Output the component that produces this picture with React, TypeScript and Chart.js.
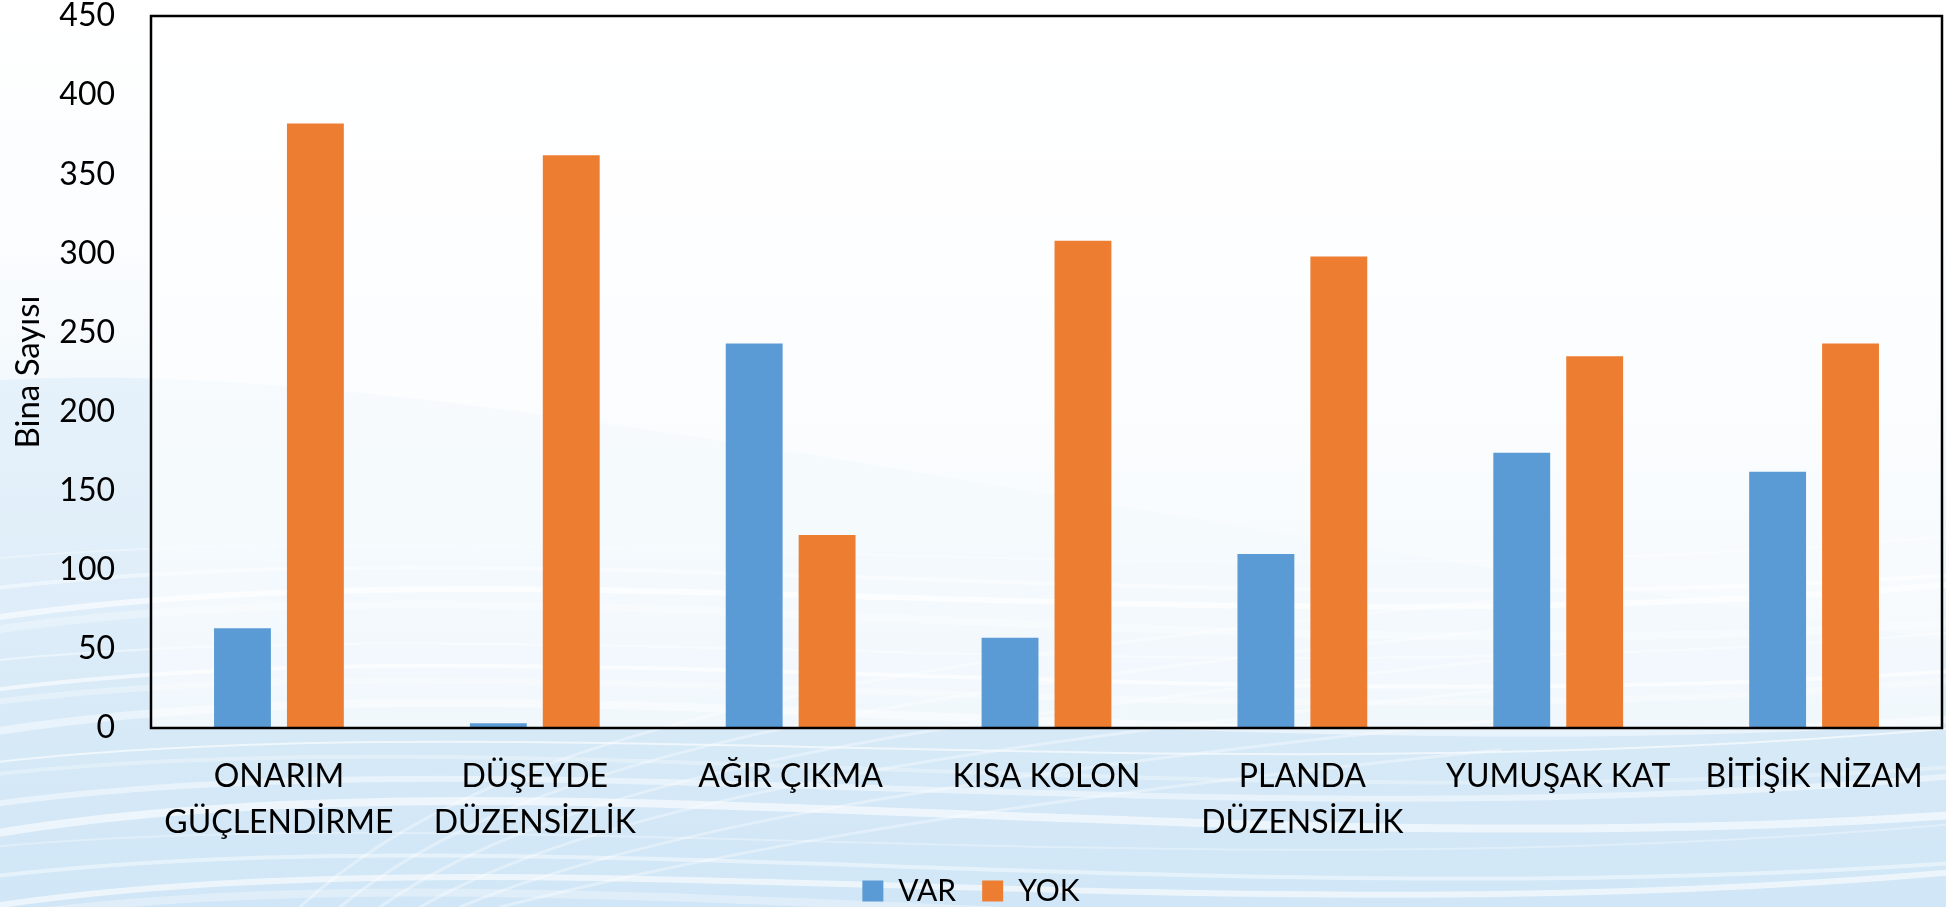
import React, { useEffect, useRef } from "react";
import { Chart, registerables } from "chart.js";

Chart.register(...registerables);

const categories: (string | string[])[] = [
  ["ONARIM", "GÜÇLENDİRME"],
  ["DÜŞEYDE", "DÜZENSİZLİK"],
  "AĞIR ÇIKMA",
  "KISA KOLON",
  ["PLANDA", "DÜZENSİZLİK"],
  "YUMUŞAK KAT",
  "BİTİŞİK NİZAM",
];
const varValues = [63, 3, 243, 57, 110, 174, 162];
const yokValues = [382, 362, 122, 308, 298, 235, 243];
const seriesNames = ["VAR", "YOK"];
const yAxisTitle = "Bina Sayısı";
const yMin = 0;
const yMax = 450;
const yStep = 50;

const FONT = "Lato, 'Open Sans', 'Noto Sans', sans-serif";

const backgroundPlugin = {
  id: "bgWaves",
  beforeDraw(chart: any) {
    const { ctx, width, height, chartArea } = chart;
    ctx.save();
    ctx.fillStyle = "#ffffff";
    ctx.fillRect(0, 0, width, height);

    const g = ctx.createLinearGradient(0, 0, 0, height);
    g.addColorStop(0, "rgba(214,233,247,0)");
    g.addColorStop(0.28, "rgba(214,233,247,0.12)");
    g.addColorStop(0.6, "rgba(214,233,247,0.5)");
    g.addColorStop(0.85, "rgba(210,231,246,0.85)");
    g.addColorStop(1, "rgba(208,230,246,0.95)");
    ctx.fillStyle = g;
    ctx.fillRect(0, 0, width, height);

    // broad swoosh from the left
    ctx.beginPath();
    ctx.moveTo(0, 380);
    ctx.bezierCurveTo(400, 360, 900, 480, 1946, 640);
    ctx.lineTo(1946, height);
    ctx.lineTo(0, height);
    ctx.closePath();
    ctx.fillStyle = "rgba(205,228,245,0.35)";
    ctx.fill();

    // white streaks
    ctx.lineCap = "round";
    for (let i = 0; i < 16; i++) {
      const y0 = 560 + i * 24;
      ctx.beginPath();
      ctx.moveTo(-20, y0 + (i % 3) * 6);
      ctx.bezierCurveTo(500, y0 - 50 - (i % 4) * 10, 1200, y0 + 45, 1966, y0 - 25 + (i % 2) * 15);
      ctx.strokeStyle = `rgba(255,255,255,${0.3 + (i % 3) * 0.15})`;
      ctx.lineWidth = 2 + (i % 4) * 2;
      ctx.stroke();
    }
    for (let i = 0; i < 6; i++) {
      const y0 = 720 + i * 30;
      ctx.beginPath();
      ctx.moveTo(300 + i * 40, 907);
      ctx.bezierCurveTo(500 + i * 30, y0, 900, y0 - 60, 1500, y0 - 120);
      ctx.strokeStyle = "rgba(255,255,255,0.35)";
      ctx.lineWidth = 3;
      ctx.stroke();
    }

    // plot area translucent white
    ctx.fillStyle = "rgba(255,255,255,0.65)";
    ctx.fillRect(
      chartArea.left,
      chartArea.top,
      chartArea.right - chartArea.left,
      chartArea.bottom - chartArea.top
    );
    ctx.restore();
  },
};

const borderPlugin = {
  id: "plotBorder",
  afterDatasetsDraw(chart: any) {
    const { ctx, chartArea } = chart;
    ctx.save();
    ctx.strokeStyle = "#000000";
    ctx.lineWidth = 2.5;
    ctx.strokeRect(
      chartArea.left,
      chartArea.top,
      chartArea.right - chartArea.left,
      chartArea.bottom - chartArea.top
    );
    ctx.restore();
  },
};

export default function App() {
  const canvasRef = useRef<HTMLCanvasElement | null>(null);

  useEffect(() => {
    document.body.style.margin = "0";
    const canvas = canvasRef.current;
    if (!canvas) return;
    const chart = new Chart(canvas, {
      type: "bar",
      data: {
        labels: categories,
        datasets: [
          {
            label: seriesNames[0],
            data: varValues,
            backgroundColor: "#5B9BD5",
            borderWidth: 0,
            categoryPercentage: 0.57,
            barPercentage: 0.78,
          },
          {
            label: seriesNames[1],
            data: yokValues,
            backgroundColor: "#ED7D31",
            borderWidth: 0,
            categoryPercentage: 0.57,
            barPercentage: 0.78,
          },
        ],
      },
      options: {
        responsive: false,
        animation: false,
        devicePixelRatio: 1,
        layout: { padding: { top: 16, right: 4, left: 0, bottom: -9 } },
        plugins: {
          tooltip: { enabled: false },
          legend: {
            position: "bottom",
            labels: {
              boxWidth: 21,
              boxHeight: 21,
              padding: 26,
              color: "#000000",
              font: { family: FONT, size: 30 },
            },
          },
        },
        scales: {
          x: {
            grid: { display: false, drawTicks: false },
            border: { display: false },
            ticks: {
              color: "#000000",
              padding: 26,
              maxRotation: 0,
              autoSkip: false,
              font: { family: FONT, size: 32, lineHeight: 1.4375 },
            },
            afterFit(scale: any) {
              scale.height = 122;
              scale.paddingLeft = 0;
              scale.paddingRight = 0;
            },
          },
          y: {
            min: yMin,
            max: yMax,
            grid: { display: false, drawTicks: false },
            border: { display: false },
            ticks: {
              stepSize: yStep,
              color: "#000000",
              padding: 36,
              font: { family: FONT, size: 32 },
            },
            title: {
              display: true,
              text: yAxisTitle,
              color: "#000000",
              padding: { top: 9, bottom: 0 },
              font: { family: FONT, size: 33 },
            },
            afterFit(scale: any) {
              scale.width = 151;
              scale.paddingTop = 0;
              scale.paddingBottom = 0;
            },
          },
        },
      },
      plugins: [backgroundPlugin, borderPlugin],
    });
    return () => chart.destroy();
  }, []);

  return (
    <div style={{ width: 1946, height: 907 }}>
      <canvas ref={canvasRef} width={1946} height={907} style={{ display: "block" }} />
    </div>
  );
}
